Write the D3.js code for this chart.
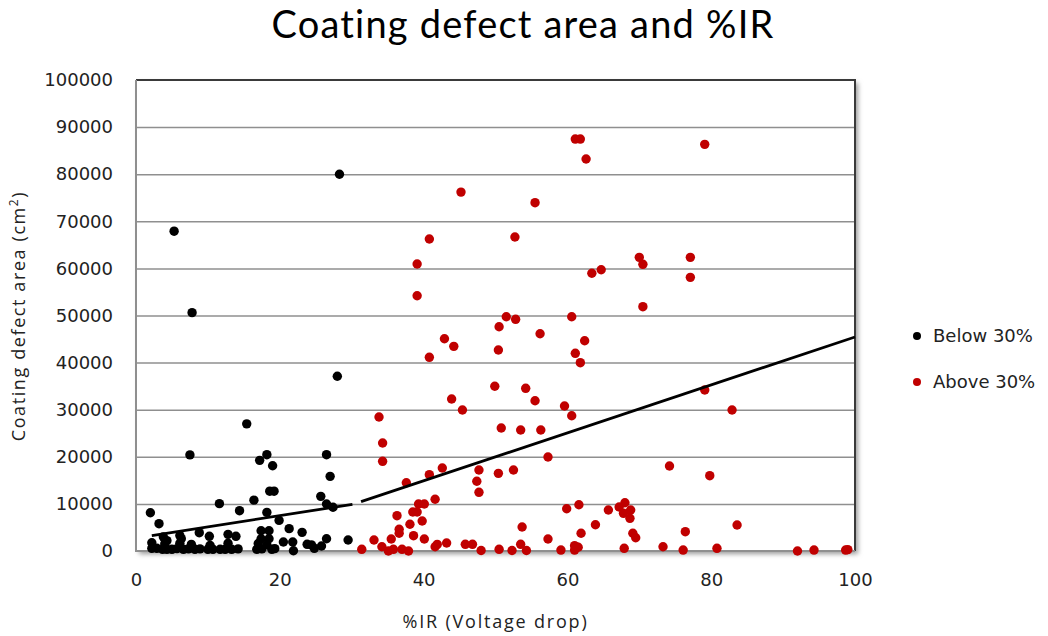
<!DOCTYPE html>
<meta charset="utf-8">
<html>
<head>
<title>Coating defect area and %IR</title>
<script src="https://d3js.org/d3.v7.min.js"></script>
<style>
  body {margin: 0; background: #fff;}
  .tick text {font-family: "DejaVu Sans"; font-size: 18px; fill: #222;}
  .title {font-family: Lato; font-size: 38px; letter-spacing: 1.2px; fill: #000;}
  .axtitle {font-family: "Open Sans"; font-size: 18px; letter-spacing: 1.8px; fill: #222;}
  .legend {font-family: "DejaVu Sans"; font-size: 18px; fill: #222;}
  .grid line {stroke: #8f8f8f; stroke-width: 1.5px;}
</style>
</head>
<body>
<svg id="chart" width="1048" height="636"></svg>
<script>
// %IR , coating defect area (cm2)
var below30 = [
  [2.0,8130],[3.2,5800],[5.3,67900],[7.8,50600],[28.3,80000],[28.0,37100],[15.4,27000],
  [7.5,20400],[17.2,19250],[18.2,20450],[19.0,18100],[26.5,20450],[27.0,15850],[18.6,12700],
  [19.2,12700],[11.6,10050],[16.4,10800],[25.7,11600],[26.5,9980],[27.4,9280],[14.4,8560],
  [18.2,8200],[19.9,6500],[21.3,4740],[23.1,3960],[8.8,3890],[10.2,3120],[12.8,3540],
  [13.9,3120],[6.3,2620],[4.3,2200],[17.4,4300],[18.5,4300],[17.4,2610],[18.5,2610],
  [26.5,2610],[29.5,2330],[20.5,1900],[21.8,1900],[23.8,1420],[24.8,570],[25.8,1060],
  [21.9,60],[2.2,570],[2.9,570],[3.7,360],[2.2,1760],
  [4.3,360],[5.0,360],[5.7,500],[6.6,360],[7.3,450],[8.2,360],[8.9,450],[10.0,360],
  [10.7,360],[11.7,360],[12.4,360],[13.3,360],[14.2,450],[16.8,360],[17.5,450],[18.9,360],
  [19.3,500],[4.0,1500],[6.1,1630],[7.7,1400],[10.3,1200],[12.8,1630],[17.0,1600],
  [18.2,1300],[24.4,1300],[3.8,3000],[6.1,3300]
];
var above30 = [
  [61.1,87460],[61.8,87460],[62.6,83220],[45.2,76200],[55.5,73950],[40.8,66240],[52.7,66660],
  [39.1,60930],[63.4,58960],[64.7,59720],[39.1,54200],[51.5,49740],[52.8,49190],[60.6,49740],
  [50.5,47620],[56.2,46130],[62.4,44650],[42.9,45070],[44.2,43450],[50.4,42670],[61.1,41970],
  [61.8,39980],[40.8,41120],[49.9,34970],[54.2,34540],[55.5,31910],[43.9,32270],[45.4,29930],
  [59.6,30780],[60.6,28720],[33.8,28450],[34.3,22930],[34.3,19040],[50.8,26110],[53.5,25690],
  [56.3,25690],[57.3,19960],[42.6,17620],[40.8,16200],[47.7,17200],[47.4,14800],[47.7,12460],
  [50.4,16490],[52.5,17200],[37.6,14500],[41.6,10980],[39.3,9980],[40.1,9980],[38.5,8280],
  [39.1,8280],[36.3,7500],[39.8,6370],[36.6,4610],[36.6,3760],[38.1,5670],[38.6,3250],
  [40.1,2550],[33.1,2340],[34.2,910],[35.5,2550],[35.1,0],[35.8,360],[37.0,360],[37.9,0],
  [41.6,910],[43.2,1700],[45.8,1420],[46.8,1420],[48.0,100],[50.5,360],[52.3,100],[53.7,5100],
  [53.5,1420],[54.3,100],[57.3,2550],[59.1,200],[59.9,8980],[61.6,9830],[61.9,3760],[61.0,1130],
  [61.5,790],[61.0,200],[63.9,5580],[65.7,8700],[67.2,9340],[68.0,10250],[67.8,8000],[67.9,570],
  [68.8,8700],[68.7,6940],[69.1,3760],[69.5,2820],[79.1,86340],[70.0,62350],[70.5,60870],
  [77.1,62350],[77.1,58100],[70.5,51870],[79.1,34180],[82.9,29930],[74.2,18050],[79.8,15990],
  [73.3,910],[76.4,4100],[76.1,200],[80.8,570],[83.6,5520],[92.0,0],[94.3,200],[98.7,200],
  [99.0,300],[31.4,360],[41.9,1400]
];
// trendline end points
var trendBelow = [[2.2,3250],[30.1,9915]];
var trendAbove = [[31.3,10470],[100,45440]];

var xTicks = [0,20,40,60,80,100];
var yTicks = [0,10000,20000,30000,40000,50000,60000,70000,80000,90000,100000];
var seriesNames = ["Below 30%","Above 30%"];
var seriesColors = ["#000000","#c00000"];

var svg = d3.select("#chart");
var pLeft = 136, pRight = 855, pTop = 80, pBottom = 551;

var x = d3.scaleLinear().domain([0,100]).range([pLeft,pRight]);
var y = d3.scaleLinear().domain([0,100000]).range([pBottom,pTop]);

var defs = svg.append("defs");
defs.append("filter").attr("id","shadow")
  .attr("x","-5%").attr("y","-5%").attr("width","110%").attr("height","110%")
  .append("feGaussianBlur").attr("stdDeviation",2.5);

// plot area shadow + background
svg.append("rect")
  .attr("x",pLeft+3).attr("y",pTop+3)
  .attr("width",pRight-pLeft).attr("height",pBottom-pTop)
  .attr("fill","#9a9a9a").attr("filter","url(#shadow)");
svg.append("rect")
  .attr("x",pLeft).attr("y",pTop)
  .attr("width",pRight-pLeft).attr("height",pBottom-pTop)
  .attr("fill","#fff");

// gridlines
svg.append("g").attr("class","grid")
  .attr("transform","translate(" + pLeft + ",0)")
  .call(d3.axisLeft(y).tickValues(yTicks.slice(1,-1)).tickSize(-(pRight-pLeft)).tickFormat(""))
  .call(function(g){ g.select(".domain").remove(); });

// frame
svg.append("path")
  .attr("d","M" + pLeft + "," + pTop + "H" + pRight + "V" + pBottom)
  .attr("fill","none").attr("stroke","#3a3a3a").attr("stroke-width",2);
svg.append("path")
  .attr("d","M" + pLeft + "," + pTop + "V" + pBottom + "H" + pRight)
  .attr("fill","none").attr("stroke","#8f8f8f").attr("stroke-width",2);

// axes labels
svg.append("g")
  .attr("transform","translate(" + pLeft + ",0)")
  .call(d3.axisLeft(y).tickValues(yTicks).tickSize(0).tickPadding(23).tickFormat(d3.format("d")))
  .call(function(g){ g.select(".domain").remove(); });

svg.append("g")
  .attr("transform","translate(0," + pBottom + ")")
  .call(d3.axisBottom(x).tickValues(xTicks).tickSize(0).tickPadding(22))
  .call(function(g){ g.select(".domain").remove(); });

// points
var series = [below30, above30];
series.forEach(function(data, i) {
  svg.append("g").selectAll("circle")
    .data(data)
    .enter().append("circle")
    .attr("cx", function(d){ return x(d[0]); })
    .attr("cy", function(d){ return y(d[1]); })
    .attr("r", 4.7)
    .attr("fill", seriesColors[i]);
});

// trendlines
var line = d3.line()
  .x(function(d){ return x(d[0]); })
  .y(function(d){ return y(d[1]); });
[trendBelow, trendAbove].forEach(function(t){
  svg.append("path").datum(t)
    .attr("d", line)
    .attr("fill","none").attr("stroke","#000").attr("stroke-width",2.8);
});

// titles
svg.append("text").attr("class","title")
  .attr("x",523).attr("y",38).attr("text-anchor","middle")
  .text("Coating defect area and %IR");

svg.append("text").attr("class","axtitle")
  .attr("x",(pLeft+pRight)/2).attr("y",628).attr("text-anchor","middle")
  .text("%IR (Voltage drop)");

var yt = svg.append("text").attr("class","axtitle")
  .style("letter-spacing","1.6px")
  .attr("transform","translate(25," + 316 + ") rotate(-90)")
  .attr("text-anchor","middle");
yt.append("tspan").text("Coating defect  area (cm");
yt.append("tspan").attr("dy",-7).style("font-size","12px").text("2");
yt.append("tspan").attr("dy",7).text(")");

// legend
var legend = svg.append("g").selectAll("g")
  .data(seriesNames)
  .enter().append("g")
  .attr("transform", function(d,i){ return "translate(917," + (336 + i*46) + ")"; });
legend.append("circle").attr("r",4).attr("fill", function(d,i){ return seriesColors[i]; });
legend.append("text").attr("class","legend")
  .attr("x",16).attr("dy","0.35em").text(function(d){ return d; });
</script>
</body>
</html>
